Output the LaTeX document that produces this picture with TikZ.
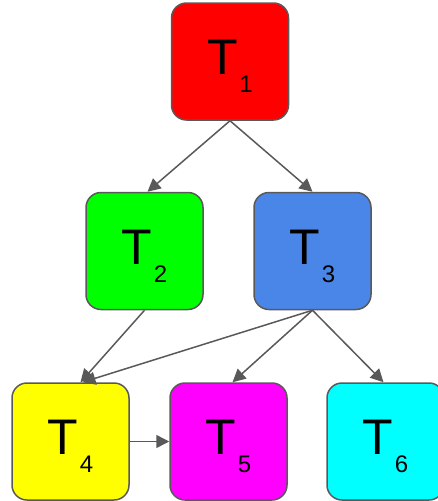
\documentclass[tikz,border=0pt]{standalone}
\usepackage{fontspec}
\setmainfont{Liberation Sans}
\usetikzlibrary{arrows.meta}
\definecolor{edgegray}{HTML}{595959}
\definecolor{tred}{HTML}{FF0000}
\definecolor{tgreen}{HTML}{00FF00}
\definecolor{tblue}{HTML}{4A86E8}
\definecolor{tyellow}{HTML}{FFFF00}
\definecolor{tmagenta}{HTML}{FF00FF}
\definecolor{tcyan}{HTML}{00FFFF}
\newcommand{\tlab}[1]{{\fontsize{50}{50}\selectfont T}\kern1.5pt\raisebox{-18pt}[0pt][8pt]{\fontsize{24}{24}\selectfont #1}}
\tikzset{
  taskbox/.style={draw=edgegray, line width=1.5pt, rounded corners=15pt, minimum width=117pt, minimum height=117pt, inner sep=0pt, text=black},
  conn/.style={draw=edgegray, line width=1.5pt, -{Triangle[length=13pt,width=13pt]}}
}
\begin{document}
\begin{tikzpicture}[x=1pt,y=-1pt]
\useasboundingbox (0,0) rectangle (438,501);
\node[taskbox, fill=tred] (t1) at (230,61.5) {\tlab{1}};
\node[taskbox, fill=tgreen] (t2) at (144.5,251) {\tlab{2}};
\node[taskbox, fill=tblue] (t3) at (312.5,251) {\tlab{3}};
\node[taskbox, fill=tyellow] (t4) at (70.5,441.5) {\tlab{4}};
\node[taskbox, fill=tmagenta] (t5) at (228.5,441.5) {\tlab{5}};
\node[taskbox, fill=tcyan] (t6) at (385.5,441.5) {\tlab{6}};
\draw[conn] (t1.south) -- ([xshift=3pt]t2.north);
\draw[conn] (t1.south) -- (t3.north);
\draw[conn] (t2.south) -- ([xshift=10pt]t4.north);
\draw[conn] (t3.south) -- ([xshift=12pt]t4.north);
\draw[conn] (t3.south) -- ([xshift=4pt]t5.north);
\draw[conn] (t3.south) -- ([xshift=-2pt]t6.north);
\draw[conn] (t4.east) -- (t5.west);
\end{tikzpicture}
\end{document}
